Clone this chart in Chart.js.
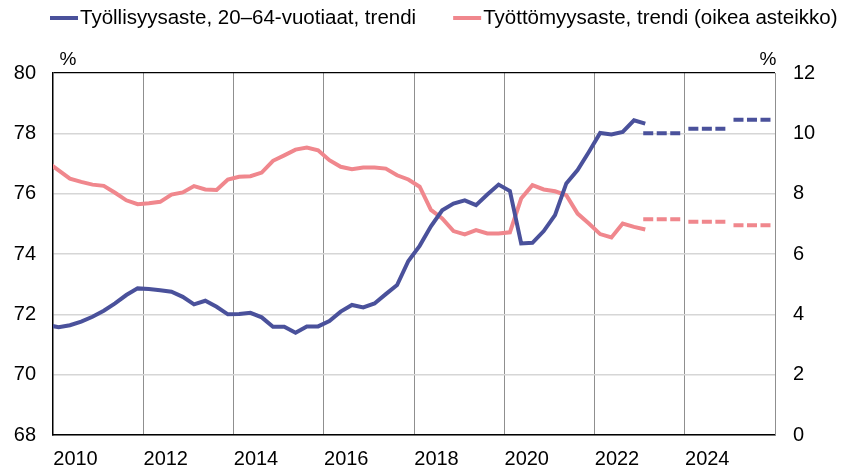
<!DOCTYPE html>
<html>
<head>
<meta charset="utf-8">
<script src="https://cdn.jsdelivr.net/npm/chart.js@4.4.1/dist/chart.umd.min.js"></script>
<style>
  html, body { margin: 0; padding: 0; background: #fff; }
  #wrap { width: 843px; height: 471px; position: relative; }
</style>
</head>
<body>
<div id="wrap"><canvas id="chart"></canvas></div>
<script>
// quarterly trend data, first point 2009Q4
const startYear = 2009;
const startQuarter = 4;

const employment = [
  71.65,
  71.57, 71.64, 71.76, 71.92,
  72.12, 72.36, 72.64, 72.86,
  72.84, 72.80, 72.75, 72.58,
  72.33, 72.45, 72.25, 72.00,
  72.01, 72.05, 71.90, 71.59,
  71.59, 71.39, 71.60, 71.60,
  71.78, 72.09, 72.31, 72.23,
  72.36, 72.67, 72.97, 73.77,
  74.27, 74.92, 75.45, 75.67,
  75.78, 75.62, 75.97, 76.30,
  76.09, 74.35, 74.37, 74.76,
  75.29, 76.34, 76.78, 77.38,
  78.01, 77.96, 78.05, 78.43,
  78.32
];

const unemployment = [
  9.05,
  8.77, 8.50, 8.39, 8.30,
  8.26, 8.03, 7.78, 7.65,
  7.68, 7.73, 7.97, 8.04,
  8.25, 8.14, 8.12, 8.47,
  8.56, 8.58, 8.70, 9.09,
  9.27, 9.46, 9.53, 9.44,
  9.11, 8.89, 8.81, 8.87,
  8.87, 8.83, 8.61, 8.47,
  8.23, 7.46, 7.18, 6.76,
  6.65, 6.79, 6.68, 6.68,
  6.72, 7.84, 8.28, 8.14,
  8.08, 7.95, 7.34, 7.01,
  6.66, 6.55, 7.01, 6.90,
  6.81
];

// annual forecasts
const forecastYears = [2023, 2024, 2025];
const employmentForecast = [78.0, 78.15, 78.45];
const unemploymentForecast = [7.15, 7.07, 6.95];

const yearTicks = [2010, 2012, 2014, 2016, 2018, 2020, 2022, 2024, 2026];
const leftTicks = [68, 70, 72, 74, 76, 78, 80];
const rightTicks = [0, 2, 4, 6, 8, 10, 12];

const BLUE = "#4a519b";
const PINK = "#f0878d";
const FONT = "'Liberation Sans', Arial, sans-serif";

// quarter -> position in the middle of the quarter
const quarterX = employment.map((_, i) => {
  const q = startQuarter - 1 + i;
  return startYear + Math.floor(q / 4) + ((q % 4) + 0.5) / 4;
});

const toPoints = (values) => values.map((v, i) => ({ x: quarterX[i], y: v }));

// each forecast year is a flat dashed segment inside that year
const dashInset = 0.08;
const forecastPoints = (values) => {
  const pts = [];
  forecastYears.forEach((yr, i) => {
    pts.push({ x: yr + dashInset, y: values[i] });
    pts.push({ x: yr + 1 - dashInset, y: values[i] });
    pts.push({ x: yr + 1 - dashInset / 2, y: null });
  });
  return pts;
};

// legend drawn by hand so the spacing matches the original
const topLegend = {
  id: "topLegend",
  afterDraw(chart) {
    const { ctx } = chart;
    const items = chart.data.datasets.filter((d) => !d.forecast);
    ctx.save();
    ctx.font = "20.5px " + FONT;
    ctx.textBaseline = "middle";
    let x = 50;
    const y = 18;
    items.forEach((d) => {
      ctx.strokeStyle = d.borderColor;
      ctx.lineWidth = 4;
      ctx.beginPath();
      ctx.moveTo(x, y);
      ctx.lineTo(x + 28, y);
      ctx.stroke();
      ctx.fillStyle = "#000";
      ctx.fillText(d.label, x + 30, y);
      x += 30 + ctx.measureText(d.label).width + 37;
    });
    ctx.restore();
  }
};

const percentLabels = {
  id: "percentLabels",
  afterDraw(chart) {
    const { ctx, chartArea } = chart;
    ctx.save();
    ctx.font = "19px " + FONT;
    ctx.fillStyle = "#000";
    ctx.textAlign = "center";
    ctx.textBaseline = "bottom";
    ctx.fillText("%", chartArea.left + 15, chartArea.top - 4);
    ctx.fillText("%", chartArea.right - 7, chartArea.top - 4);
    ctx.restore();
  }
};

new Chart(document.getElementById("chart"), {
  type: "line",
  data: {
    datasets: [
      {
        label: "Työllisyysaste, 20–64-vuotiaat, trendi",
        data: toPoints(employment),
        borderColor: BLUE,
        borderWidth: 4,
        pointRadius: 0,
        yAxisID: "y"
      },
      {
        label: "Työttömyysaste, trendi (oikea asteikko)",
        data: toPoints(unemployment),
        borderColor: PINK,
        borderWidth: 4,
        pointRadius: 0,
        yAxisID: "y1"
      },
      {
        label: "Työllisyysaste, ennuste",
        forecast: true,
        data: forecastPoints(employmentForecast),
        borderColor: BLUE,
        borderWidth: 4,
        borderDash: [10, 3.5],
        pointRadius: 0,
        spanGaps: false,
        yAxisID: "y"
      },
      {
        label: "Työttömyysaste, ennuste",
        forecast: true,
        data: forecastPoints(unemploymentForecast),
        borderColor: PINK,
        borderWidth: 4,
        borderDash: [10, 3.5],
        pointRadius: 0,
        spanGaps: false,
        yAxisID: "y1"
      }
    ]
  },
  options: {
    responsive: true,
    maintainAspectRatio: false,
    animation: false,
    layout: { padding: { top: 73, left: 0, right: 0, bottom: 0 } },
    plugins: {
      legend: { display: false },
      tooltip: { enabled: false }
    },
    scales: {
      x: {
        type: "linear",
        min: 2010,
        max: 2026,
        afterBuildTicks: (scale) => {
          scale.ticks = yearTicks.map((v) => ({ value: v }));
        },
        afterFit: (scale) => { scale.height = 36; },
        ticks: {
          font: { family: FONT, size: 20 },
          color: "#000",
          padding: 12,
          labelOffset: 22.5,
          maxRotation: 0,
          autoSkip: false,
          callback: (v) => (v < 2026 ? String(v) : "")
        },
        grid: {
          color: (c) => (c.tick && c.tick.value === 2010 ? "rgba(0,0,0,0)" : "#8f8f8f"),
          lineWidth: 1,
          drawTicks: false
        },
        border: { color: "#000", width: 1.5 }
      },
      y: {
        position: "left",
        min: 68,
        max: 80,
        afterBuildTicks: (scale) => {
          scale.ticks = leftTicks.map((v) => ({ value: v }));
        },
        afterFit: (scale) => { scale.width = 53; },
        ticks: {
          font: { family: FONT, size: 20 },
          color: "#000",
          padding: 17
        },
        grid: {
          color: (c) => (c.tick && c.tick.value === 80 ? "#000" : "#d6d6d6"),
          lineWidth: (c) => (c.tick && c.tick.value === 80 ? 1.2 : 1.5),
          drawTicks: false
        },
        border: { color: "#000", width: 1.5 }
      },
      y1: {
        position: "right",
        min: 0,
        max: 12,
        afterBuildTicks: (scale) => {
          scale.ticks = rightTicks.map((v) => ({ value: v }));
        },
        afterFit: (scale) => { scale.width = 68; },
        ticks: {
          font: { family: FONT, size: 20 },
          color: "#000",
          padding: 18
        },
        grid: { drawOnChartArea: false, drawTicks: false },
        border: { color: "#8f8f8f", width: 1 }
      }
    }
  },
  plugins: [topLegend, percentLabels]
});
</script>
</body>
</html>
